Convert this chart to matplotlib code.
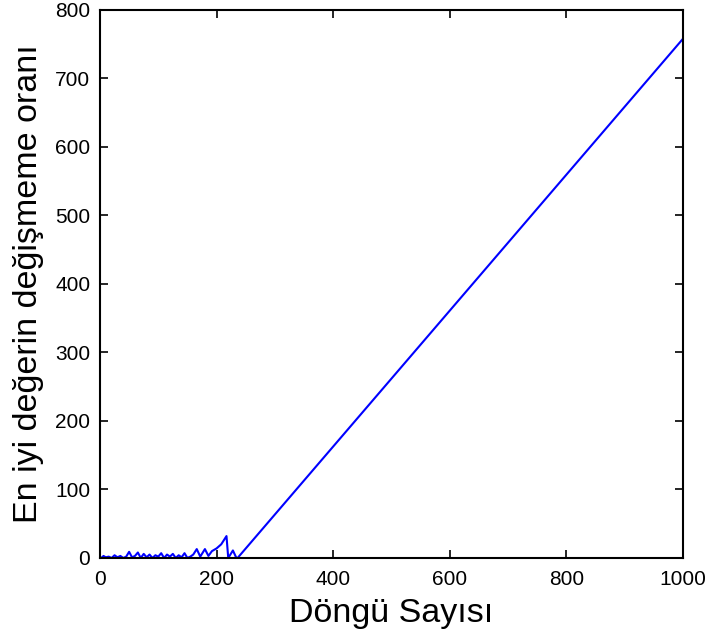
import matplotlib
matplotlib.use("Agg")
from matplotlib import pyplot as plt

plt.rcParams['font.family'] = ['Liberation Sans', 'DejaVu Sans']

# early noisy part
iter_x = [0, 3, 6, 10, 15, 20, 25, 30, 35, 40, 45, 50, 55, 60, 65, 70, 75, 80,
          85, 90, 95, 100, 105, 110, 115, 120, 125, 130, 135, 140, 145, 150,
          155, 160, 166, 172, 180, 186, 192, 200, 208, 217, 220, 228, 234,
          236, 1000]
best_y = [2, 0, 3, 1, 2, 0, 4, 1, 3, 0, 2, 9, 1, 3, 8, 0, 6, 1,
          5, 0, 4, 2, 7, 0, 5, 2, 6, 0, 4, 1, 7, 0,
          2, 5, 13, 2, 13, 3, 10, 14, 20, 32, 0, 11, 0,
          0, 758]

x_ticks = [0, 200, 400, 600, 800, 1000]
y_ticks = [0, 100, 200, 300, 400, 500, 600, 700, 800]

fig = plt.figure(figsize=(7.1, 6.41), dpi=100)
ax = fig.add_axes([0.1408, 0.1295, 0.8212, 0.855])
ax.plot(iter_x, best_y, color='#0000ff', lw=1.5)

ax.set_xlim(0, 1000)
ax.set_ylim(0, 800)
ax.set_xticks(x_ticks)
ax.set_yticks(y_ticks)
ax.tick_params(direction='in', top=True, right=True, labelsize=15, length=6, width=1.2)
ax.tick_params(axis='x', pad=9)
ax.tick_params(axis='y', pad=7)
for s in ax.spines.values():
    s.set_linewidth(1.5)

ax.set_xlabel('Döngü Sayısı', fontsize=24.5, labelpad=6)
ax.set_ylabel('En iyi değerin değişmeme oranı', fontsize=24.5, labelpad=8)

fig.savefig('out.png')
